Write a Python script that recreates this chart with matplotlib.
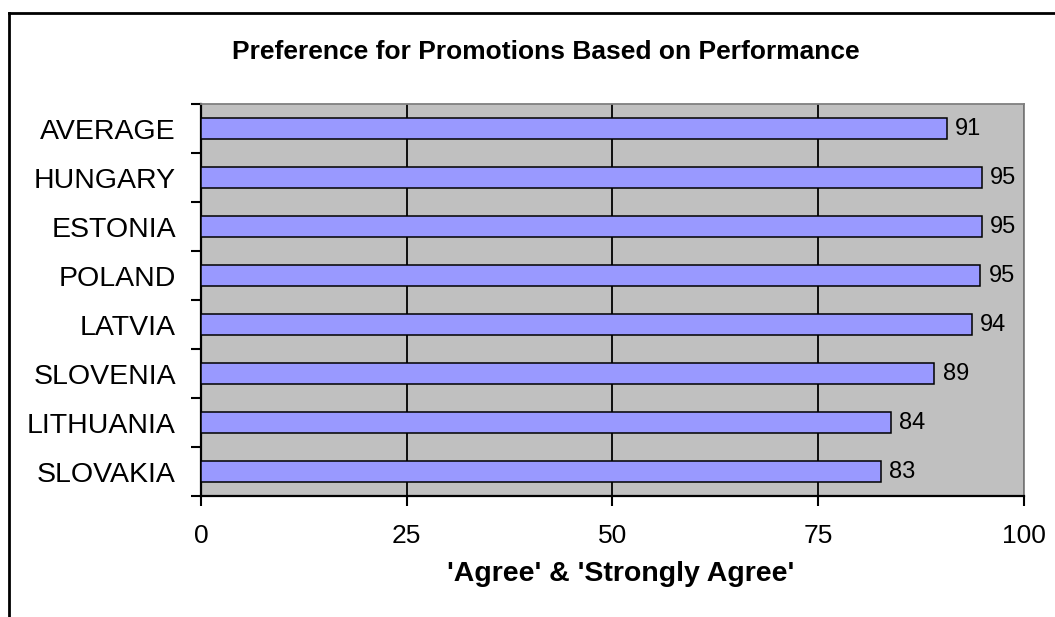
import numpy as np
import matplotlib
matplotlib.use("Agg")
import matplotlib.pyplot as plt
from matplotlib.lines import Line2D

plt.rcParams['font.family'] = ['Liberation Sans', 'DejaVu Sans']

# data (top to bottom as shown)
countries = ['AVERAGE', 'HUNGARY', 'ESTONIA', 'POLAND', 'LATVIA',
             'SLOVENIA', 'LITHUANIA', 'SLOVAKIA']
values = [90.6, 94.9, 94.9, 94.7, 93.7, 89.1, 83.8, 82.6]
xticks = [0, 25, 50, 75, 100]

fig = plt.figure(figsize=(10.55, 6.17), dpi=100)
ax = fig.add_axes([0.1905, 0.1961, 0.7801, 0.6353])
ax.set_facecolor('#C0C0C0')

y = np.arange(len(countries))[::-1]
ax.barh(y, values, height=0.41, color='#9999FF', edgecolor='black',
        linewidth=1.1, zorder=3)
for yi, v in zip(y, values):
    ax.text(v + 1.0, yi, f'{v:.0f}', va='center', ha='left', fontsize=17, zorder=4)

ax.set_xlim(0, 100)
ax.set_ylim(-0.5, len(countries) - 0.5)
ax.set_xticks(xticks)
ax.set_xticklabels([str(t) for t in xticks], fontsize=19)
ax.set_yticks(y)
ax.set_yticklabels(countries, fontsize=20.5)
ax.tick_params(axis='y', which='major', length=0, pad=18)
ax.set_yticks(np.arange(len(countries) + 1) - 0.5, minor=True)
ax.tick_params(axis='y', which='minor', length=7, width=1.5, direction='out')
ax.tick_params(axis='x', length=7, width=1.5, direction='out', pad=13)

ax.grid(axis='x', color='black', linewidth=1.3, zorder=1)
ax.set_axisbelow(True)

for s in ['left', 'bottom']:
    ax.spines[s].set_color('black')
    ax.spines[s].set_linewidth(1.6)
for s in ['top', 'right']:
    ax.spines[s].set_color('#808080')
    ax.spines[s].set_linewidth(1.3)

fig.text(0.517, 0.916, 'Preference for Promotions Based on Performance',
         ha='center', va='center', fontsize=19, fontweight='bold')
fig.text(0.588, 0.069, "'Agree' & 'Strongly Agree'",
         ha='center', va='center', fontsize=20.5, fontweight='bold')

# chart border (only top and left visible)
fig.add_artist(Line2D([0.0085, 1.0], [1 - 13 / 617, 1 - 13 / 617],
                      transform=fig.transFigure, color='black', linewidth=2))
fig.add_artist(Line2D([0.0085, 0.0085], [0.0, 1 - 13 / 617],
                      transform=fig.transFigure, color='black', linewidth=2))

fig.savefig('out.png', dpi=100)
